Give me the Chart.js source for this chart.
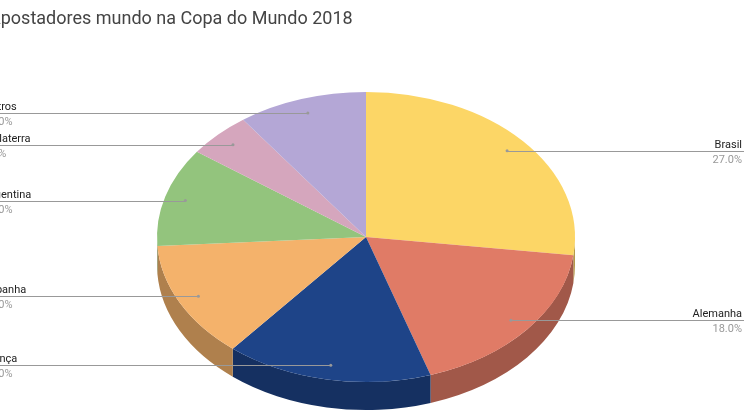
<!DOCTYPE html><html><head><meta charset="utf-8">
<script src="https://cdn.jsdelivr.net/npm/chart.js@4"></script>
<style>html,body{margin:0;padding:0;background:#fff;overflow:hidden;width:744px;height:420px}#w{width:744px;height:500px;position:absolute;top:0;left:0}</style></head><body>
<div id="w"><canvas id="c" width="744" height="500"></canvas></div>
<script>
const categories=["Brasil","Alemanha","França","Espanha","Argentina","Inglaterra","Outros"];
const values=[27,18,16,13,11,5,10];
const colors=["#FCD666","#E07B66","#1E4488","#F4B26B","#93C47D","#D5A6BD","#B4A7D6"];
const title="Apostadores mundo na Copa do Mundo 2018";
const RY=145,DEPTH=28;
function dark(h,f){const n=parseInt(h.slice(1),16);return `rgb(${((n>>16)&255)*f|0},${((n>>8)&255)*f|0},${(n&255)*f|0})`;}
const p3d={id:'p3d',
beforeDatasetsDraw(ch){const ctx=ch.ctx,arcs=ch.getDatasetMeta(0).data;if(!arcs.length)return;
 const cx=arcs[0].x,cy=arcs[0].y,R=arcs[0].outerRadius,k=RY/R;
 arcs.forEach((a,i)=>{let s=Math.max(a.startAngle,0),e=Math.min(a.endAngle,Math.PI);
  // normalize
  let s2=a.startAngle,e2=a.endAngle;[[s2,e2],[s2-2*Math.PI,e2-2*Math.PI]].forEach(([ss,ee])=>{let s=Math.max(ss,0),e=Math.min(ee,Math.PI);if(e<=s)return;
   ctx.save();ctx.beginPath();
   ctx.ellipse(cx,cy+DEPTH,R,RY,0,s,e,false);
   ctx.ellipse(cx,cy,R,RY,0,e,s,true);ctx.closePath();
   ctx.fillStyle=dark(colors[i],0.72);ctx.fill();ctx.restore();});
 });
 ctx.save();ctx.translate(cx,cy);ctx.scale(1,k);ctx.translate(-cx,-cy);},
afterDatasetsDraw(ch){const ctx=ch.ctx;ctx.restore();const arcs=ch.getDatasetMeta(0).data;
 const cx=arcs[0].x,cy=arcs[0].y,R=arcs[0].outerRadius,tot=values.reduce((a,b)=>a+b,0);
 ctx.save();ctx.font='18px Roboto, Arial';ctx.fillStyle='#444';ctx.textBaseline='alphabetic';ctx.fillText(title,-11,24);
 ctx.font='11px Roboto, Arial';
 arcs.forEach((a,i)=>{const m=(a.startAngle+a.endAngle)/2;const x=cx+0.9*R*Math.cos(m),y=cy+0.9*RY*Math.sin(m);
  const right=Math.cos(m)>0;ctx.strokeStyle='#999';ctx.lineWidth=1;ctx.beginPath();ctx.moveTo(x,Math.round(y)+0.5);ctx.lineTo(right?744:0,Math.round(y)+0.5);ctx.stroke();
  ctx.beginPath();ctx.arc(x,y,1.5,0,7);ctx.fillStyle='#999';ctx.fill();
  const pct=(values[i]/tot*100).toFixed(1)+'%';
  ctx.textAlign=right?'right':'left';const tx=right?742:-16;
  ctx.fillStyle='#222';ctx.fillText(categories[i],tx,y-3);
  ctx.fillStyle='#999';ctx.fillText(pct,tx+(right?0:-1),y+12);});
 ctx.restore();}};
new Chart(document.getElementById('c'),{type:'pie',data:{labels:categories,datasets:[{data:values,backgroundColor:colors,borderColor:'#fff',borderWidth:0}]},
options:{responsive:false,animation:false,layout:{padding:{left:157,right:169,top:28,bottom:54}},
plugins:{legend:{display:false},tooltip:{enabled:false},title:{display:false}}},plugins:[p3d]});
</script></body></html>
